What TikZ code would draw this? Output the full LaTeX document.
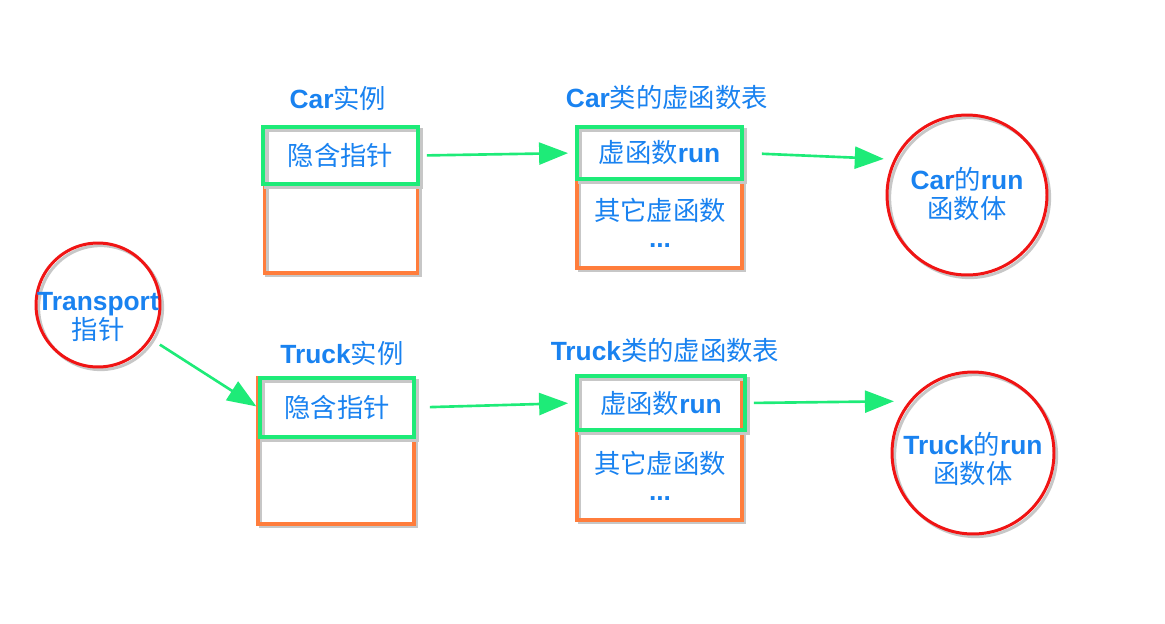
\documentclass[tikz,border=0pt]{standalone}
\usepackage{fontspec}
\setmainfont{Liberation Sans}
\newfontfamily\cjk{Noto Sans CJK SC}
\usetikzlibrary{arrows.meta}
\definecolor{boxorange}{RGB}{255,125,60}
\definecolor{ptrgreen}{RGB}{30,235,120}
\definecolor{txtblue}{RGB}{25,130,240}
\definecolor{ringred}{RGB}{240,20,20}
\newcommand{\zh}[1]{{\cjk #1}}
\newcommand{\en}[1]{\textbf{#1}}
\begin{document}
\begin{tikzpicture}[x=0.02cm, y=-0.02cm,
  shade/.style={preaction={draw=black!22, transform canvas={xshift=1.5pt, yshift=-1.5pt}}},
  lbl/.style={text=txtblue, font=\fontsize{15}{17}\selectfont, align=center, inner sep=0pt},
  outer/.style={draw=boxorange, line width=2pt, inner sep=0pt, shade},
  slot/.style={draw=ptrgreen, line width=2.2pt, lbl, shade},
  body/.style={circle, draw=ringred, line width=1.7pt, inner sep=0pt, shade},
  link/.style={draw=ptrgreen, line width=1.5pt, -{Triangle[length=0.58cm,width=0.44cm]}}]
\useasboundingbox (0,0) rectangle (1165,623);
% Car
\node[lbl] (carobjlbl) at (338,98) {\en{Car}\zh{实例}};
\node[outer, minimum width=3.06cm, minimum height=2.92cm] (carobj) at (341,200) {};
\node[slot, minimum width=3.1cm, minimum height=1.14cm] (carptr) at (340.5,155.5) {\zh{隐含指针}};
\node[lbl] (carvtlbl) at (667,97) {\en{Car}\zh{类的虚函数表}};
\node[outer, minimum width=3.3cm, minimum height=2.82cm] (carvt) at (659.5,197.5) {};
\node[slot, minimum width=3.3cm, minimum height=1.04cm] (carrun) at (659.5,153) {\zh{虚函数}\en{run}};
\node[lbl] (carmore) at (660,210) {\zh{其它虚函数}};
\node[lbl] (cardots) at (660,246) {\en{...}};
\node[body, minimum size=3.2cm] (carbody) at (967,195) {};
\node[lbl] (carbodytxt) at (967,194) {\en{Car}\zh{的}\en{run}\\\zh{函数体}};
% Truck
\node[lbl] (truckobjlbl) at (342,353) {\en{Truck}\zh{实例}};
\node[outer, minimum width=3.12cm, minimum height=2.92cm] (truckobj) at (336,451) {};
\node[slot, minimum width=3.08cm, minimum height=1.18cm] (truckptr) at (337,407.5) {\zh{隐含指针}};
\node[lbl] (truckvtlbl) at (665,350) {\en{Truck}\zh{类的虚函数表}};
\node[outer, minimum width=3.3cm, minimum height=2.88cm] (truckvt) at (659.5,448) {};
\node[slot, minimum width=3.36cm, minimum height=1.08cm] (truckrun) at (661,403) {\zh{虚函数}\en{run}};
\node[lbl] (truckmore) at (660,463) {\zh{其它虚函数}};
\node[lbl] (truckdots) at (660,499) {\en{...}};
\node[body, minimum size=3.24cm] (truckbody) at (973,453) {};
\node[lbl] (truckbodytxt) at (973,459) {\en{Truck}\zh{的}\en{run}\\\zh{函数体}};
% pointer
\node[body, minimum size=2.48cm] (transport) at (98,305) {};
\node[lbl] (transporttxt) at (98,317) {\en{Transport}\\\zh{指针}};
% links
\draw[link, shorten <=0.14cm, shorten >=0.14cm] (carptr.east) -- (carrun.west);
\draw[link, shorten <=0.36cm, shorten >=0.2cm] (carrun.east) -- (carbody.154);
\draw[link, shorten <=0.2cm, shorten >=0.04cm] (transport) -- (truckptr.west);
\draw[link, shorten <=0.28cm, shorten >=0.14cm] (truckptr.east) -- (truckrun.west);
\draw[link, shorten <=0.14cm, shorten >=0.3cm] (truckrun.east) -- (truckbody.141);
\end{tikzpicture}
\end{document}
